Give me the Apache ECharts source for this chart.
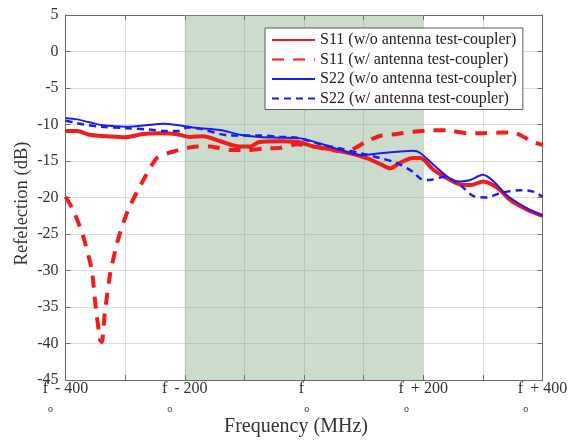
<!DOCTYPE html>
<html><head><meta charset="utf-8">
<script src="https://cdn.jsdelivr.net/npm/echarts@6/dist/echarts.min.js"></script>
<style>html,body{margin:0;padding:0;background:#fff}#c{width:578px;height:441px}</style>
</head><body><div id="c"></div>
<script>
// ---- data (frequency offset from f_o in MHz, reflection in dB) ----
const seriesNames = [
  'S11 (w/o antenna test-coupler)',
  'S11 (w/ antenna test-coupler)',
  'S22 (w/o antenna test-coupler)',
  'S22 (w/ antenna test-coupler)'
];
const s11woX = [-400,-380,-360,-330,-300,-270,-240,-215,-190,-170,-140,-110,-90,-75,-40,-10,15,45,70,105,130,145,160,183,195,217,245,262,280,300,325,345,375,400];
const s11woY = [-10.9,-10.9,-11.4,-11.6,-11.75,-11.3,-11.2,-11.3,-11.7,-11.6,-12.3,-13.0,-13.0,-12.4,-12.3,-12.4,-13.0,-13.4,-13.8,-14.6,-15.5,-16.0,-15.3,-14.6,-14.6,-16.2,-17.6,-18.2,-18.3,-17.8,-18.7,-20.3,-21.7,-22.5];
const s11wX = [-400,-387,-370,-356,-350,-342,-339,-334,-325,-312,-295,-272,-247,-219,-180,-157,-124,-96,-68,-40,-12,15,45,72,105,130,156,183,217,240,273,295,334,351,384,400];
const s11wY = [-19.9,-21.7,-25.4,-29.9,-34.5,-39.5,-39.8,-35.8,-30.4,-25.8,-21.7,-18.0,-14.6,-13.7,-13.0,-13.0,-13.5,-13.5,-13.3,-13.2,-12.7,-13.0,-13.5,-13.7,-12.3,-11.5,-11.3,-11.0,-10.8,-10.8,-11.2,-11.2,-11.1,-11.1,-12.4,-12.8];
const s22woX = [-400,-380,-360,-337,-297,-265,-236,-210,-186,-174,-141,-107,-74,-40,-6,27,61,95,128,161,183,195,217,245,262,279,300,318,340,374,400];
const s22woY = [-9.1,-9.3,-9.7,-10.1,-10.3,-10.1,-9.9,-10.1,-10.4,-10.5,-10.75,-11.4,-11.7,-11.8,-11.9,-12.6,-13.5,-14.2,-13.95,-13.7,-13.6,-13.9,-15.5,-17.4,-17.8,-17.6,-16.9,-17.8,-19.7,-21.5,-22.5];
const s22wX = [-400,-387,-370,-340,-297,-260,-230,-210,-195,-174,-124,-74,-40,-12,27,61,95,128,156,183,195,210,234,262,284,306,329,363,384,400];
const s22wY = [-9.5,-9.7,-10.0,-10.3,-10.5,-10.7,-10.9,-10.9,-10.4,-10.6,-11.5,-11.5,-11.7,-11.8,-12.7,-13.3,-13.95,-14.6,-15.3,-16.5,-17.4,-17.6,-17.2,-18.3,-19.8,-20.0,-19.4,-19.0,-19.2,-19.9];
const bandStart = -200, bandEnd = 200;
const xMajorLabels = {'-400':'- 400','-200':'- 200','0':'','200':'+ 200','400':'+ 400'};
// ---------------------------------------------------------------

const pairs = (xs, ys) => xs.map((x, i) => [x, ys[i]]);
const SERIF = '"Liberation Serif", "DejaVu Serif", serif';
const RED = '#f21c1c', BLUE = '#1c1cf0';
const chart = echarts.init(document.getElementById('c'), null, {renderer: 'canvas'});

const xBase = {
  type: 'value', min: -400, max: 400, interval: 100,
  axisLine: {show: true, onZero: false, lineStyle: {color: '#6a6a6a', width: 1}},
  axisTick: {show: true, inside: true, length: 5, lineStyle: {color: '#6a6a6a'}}
};
const yBase = {
  type: 'value', min: -45, max: 5, interval: 5,
  axisLine: {show: true, onZero: false, lineStyle: {color: '#6a6a6a', width: 1}},
  axisTick: {show: true, inside: true, length: 5, lineStyle: {color: '#6a6a6a'}}
};

chart.setOption({
  animation: false,
  backgroundColor: '#fff',
  grid: {left: 65.5, right: 35.5, top: 15, bottom: 61, containLabel: false, outerBoundsMode: 'none'},
  xAxis: [
    Object.assign({}, xBase, {
      position: 'bottom',
      name: 'Frequency (MHz)', nameLocation: 'middle', nameGap: 37, nameMoveOverlap: false,
      nameTextStyle: {fontFamily: SERIF, fontSize: 20, color: '#333', padding: [0, 16, 0, 0]},
      splitLine: {show: true, lineStyle: {color: '#dedede', width: 1}},
      axisLabel: {
        show: true, margin: 1, interval: 0,
        formatter: v => {
          const k = String(v);
          if (!(k in xMajorLabels)) return '';
          return '{f|f}{o|o}' + (xMajorLabels[k] ? '{t|' + xMajorLabels[k] + '}' : '');
        },
        rich: {
          f: {fontFamily: SERIF, fontSize: 16, color: '#333', verticalAlign: 'top', lineHeight: 18},
          o: {fontFamily: SERIF, fontSize: 10, color: '#333', verticalAlign: 'top', lineHeight: 12, padding: [23, 0, 0, 0]},
          t: {fontFamily: SERIF, fontSize: 16, color: '#333', verticalAlign: 'top', lineHeight: 18, padding: [0, 0, 0, 2]}
        }
      }
    }),
    Object.assign({}, xBase, {position: 'top', axisLabel: {show: false}, splitLine: {show: false}})
  ],
  yAxis: [
    Object.assign({}, yBase, {
      position: 'left',
      name: 'Refelection (dB)', nameLocation: 'middle', nameGap: 34, nameMoveOverlap: false,
      nameTextStyle: {fontFamily: SERIF, fontSize: 18.5, color: '#333', padding: [0, 12, 0, 0]},
      splitLine: {show: true, lineStyle: {color: '#dedede', width: 1}},
      axisLabel: {show: true, margin: 7, fontFamily: SERIF, fontSize: 16, color: '#333'}
    }),
    Object.assign({}, yBase, {position: 'right', axisLabel: {show: false}, splitLine: {show: false}})
  ],
  legend: {
    data: seriesNames,
    orient: 'vertical', left: 265, top: 28,
    padding: [4, 6, 3, 6],
    itemWidth: 43, itemHeight: 14, itemGap: 3.5,
    backgroundColor: '#fff', borderColor: '#5a5a5a', borderWidth: 1, borderRadius: 0,
    itemStyle: {opacity: 0},
    textStyle: {fontFamily: SERIF, fontSize: 16, color: '#222'}
  },
  series: [
    {
      name: 'band', type: 'line', data: [], z: 1, silent: true,
      markArea: {
        silent: true,
        itemStyle: {color: 'rgba(110,155,110,0.35)'},
        data: [[{xAxis: bandStart}, {xAxis: bandEnd}]]
      }
    },
    {
      name: seriesNames[0], type: 'line', data: pairs(s11woX, s11woY),
      showSymbol: false, symbol: 'none', smooth: 0.3, z: 3,
      lineStyle: {color: RED, width: 4}, itemStyle: {color: RED}
    },
    {
      name: seriesNames[1], type: 'line', data: pairs(s11wX, s11wY),
      showSymbol: false, symbol: 'none', smooth: 0.2, z: 3,
      lineStyle: {color: RED, width: 4, type: [12, 9]}, itemStyle: {color: RED}
    },
    {
      name: seriesNames[2], type: 'line', data: pairs(s22woX, s22woY),
      showSymbol: false, symbol: 'none', smooth: 0.3, z: 4,
      lineStyle: {color: BLUE, width: 2}, itemStyle: {color: BLUE}
    },
    {
      name: seriesNames[3], type: 'line', data: pairs(s22wX, s22wY),
      showSymbol: false, symbol: 'none', smooth: 0.3, z: 4,
      lineStyle: {color: BLUE, width: 2.5, type: [7, 5]}, itemStyle: {color: BLUE}
    }
  ]
});
</script></body></html>
